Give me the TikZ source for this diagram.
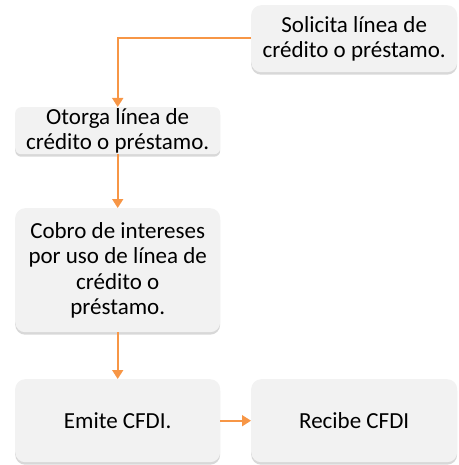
\documentclass[tikz,border=0pt]{standalone}
\usepackage{fontspec}
\setmainfont{Carlito}
\usetikzlibrary{shadows,arrows.meta}
\definecolor{boxfill}{HTML}{F2F2F2}
\definecolor{arrowc}{HTML}{F79646}
\tikzset{
  box/.style={draw=none, fill=boxfill, rounded corners=10pt, align=center,
    font=\fontsize{23}{25.5}\selectfont,
    drop shadow={shadow xshift=0pt, shadow yshift=-2.5pt, fill=black!30, opacity=0.5},
    inner sep=0pt, anchor=north west},
  conn/.style={draw=arrowc, line width=1.6pt, -{Triangle[length=9pt,width=11pt]}}
}
\begin{document}
\begin{tikzpicture}[x=1pt,y=-1pt]
\useasboundingbox (0,0) rectangle (458,465);
\node[box, minimum width=206pt, minimum height=67pt] (a) at (251,5) {Solicita línea de\\crédito o préstamo.};
\node[box, rounded corners=6pt, minimum width=205pt, minimum height=47pt] (b) at (15,107) {Otorga línea de\\crédito o préstamo.};
\node[box, minimum width=205pt, minimum height=124pt] (c) at (15,208) {Cobro de intereses\\por uso de línea de\\crédito o\\préstamo.};
\node[box, minimum width=205pt, minimum height=83pt] (d) at (15,379) {Emite CFDI.};
\node[box, minimum width=206pt, minimum height=83pt] (e) at (251,379) {Recibe CFDI};
\draw[conn] (a.west |- 0,38) -| (b.north);
\draw[conn] (b.south) -- (c.north);
\draw[conn] (c.south) -- (d.north);
\draw[conn] (d.east) -- (e.west);
\end{tikzpicture}
\end{document}
